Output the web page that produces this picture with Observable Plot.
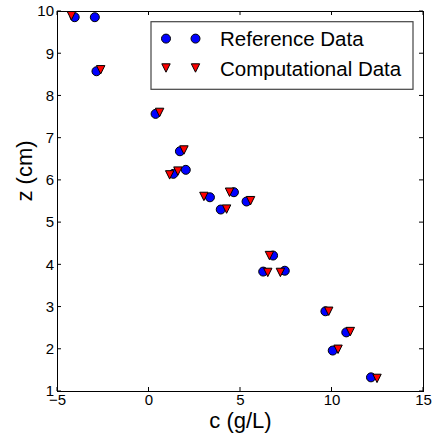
<!DOCTYPE html>
<html><head><meta charset="utf-8">
<script src="https://cdn.jsdelivr.net/npm/d3@7"></script>
<script src="https://cdn.jsdelivr.net/npm/@observablehq/plot@0.6"></script>
<style>body{margin:0;background:#fff} svg{display:block}</style>
</head><body><div id="chart"></div>
<script>
const refX = [-4.06, -2.96, -2.87, 0.36, 1.69, 1.33, 2.01, 3.33, 4.64, 3.92, 5.33, 6.78, 6.24, 7.42, 9.64, 10.78, 10.04, 12.13];
const refY = [9.865, 9.865, 8.585, 7.575, 6.69, 6.155, 6.25, 5.60, 5.72, 5.31, 5.50, 4.22, 3.84, 3.86, 2.90, 2.40, 1.97, 1.335];
const compX = [-4.24, -2.64, 0.58, 1.91, 1.13, 1.58, 3.00, 4.40, 4.24, 5.55, 6.58, 6.49, 7.18, 9.82, 11.00, 10.33, 12.46];
const compY = [9.90, 8.62, 7.61, 6.72, 6.13, 6.22, 5.62, 5.72, 5.32, 5.52, 4.22, 3.82, 3.82, 2.90, 2.42, 2.00, 1.31];
const xTicks = [-5, 0, 5, 10, 15];
const yTicks = [1, 2, 3, 4, 5, 6, 7, 8, 9, 10];
const seriesNames = ["Reference Data", "Computational Data"];
const xLabel = "c (g/L)";
const yLabel = "z (cm)";

const triDown = {draw(ctx, size) {
  const s = Math.sqrt(size / Math.PI);
  ctx.moveTo(0, s); ctx.lineTo(-s, -s); ctx.lineTo(s, -s); ctx.closePath();
}};

const ref = refX.map((x, i) => ({x, y: refY[i]}));
const comp = compX.map((x, i) => ({x, y: compY[i]}));
const FONT = "'Liberation Sans', Arial, Helvetica, sans-serif";

const chart = Plot.plot({
  width: 438, height: 438,
  marginLeft: 57, marginRight: 15, marginTop: 11, marginBottom: 47,
  style: {fontFamily: FONT, fontSize: "15px", background: "#fff", color: "#000"},
  x: {domain: [-5, 15]},
  y: {domain: [1, 10]},
  marks: [
    Plot.dot(ref, {x: "x", y: "y", r: 4.5, symbol: "circle", fill: "#0000ff", stroke: "#000", strokeWidth: 1}),
    Plot.dot(comp, {x: "x", y: "y", r: 4.2, symbol: triDown, fill: "#ff0000", stroke: "#000", strokeWidth: 1}),
    Plot.axisX(xTicks, {tickSize: 0, tickPadding: 3, fontSize: 15, label: null}),
    Plot.axisY(yTicks, {tickSize: 0, tickPadding: 3.5, fontSize: 15, label: null}),
    Plot.frame({stroke: "#000", strokeWidth: 1}),
    Plot.text([xLabel], {frameAnchor: "bottom", lineAnchor: "middle", dy: 29.8, fontSize: 22, text: d => d}),
    Plot.text([yLabel], {frameAnchor: "left", lineAnchor: "middle", dx: -32.2, rotate: -90, fontSize: 22, text: d => d})
  ]
});
document.getElementById("chart").appendChild(chart);

// inward ticks on all four sides, from Plot's scales
const sx = chart.scale("x"), sy = chart.scale("y");
const svg = d3.select(chart);
const [x0, x1] = sx.range, [y0, y1] = sy.range; // y0 bottom, y1 top
const L = 4;
const tg = svg.append("g").attr("stroke", "#000").attr("stroke-width", 1);
for (const t of xTicks) {
  const px = sx.apply(t);
  tg.append("line").attr("x1", px).attr("x2", px).attr("y1", y0).attr("y2", y0 - L);
  tg.append("line").attr("x1", px).attr("x2", px).attr("y1", y1).attr("y2", y1 + L);
}
for (const t of yTicks) {
  const py = sy.apply(t);
  tg.append("line").attr("y1", py).attr("y2", py).attr("x1", x0).attr("x2", x0 + L);
  tg.append("line").attr("y1", py).attr("y2", py).attr("x1", x1).attr("x2", x1 - L);
}

// legend
const lg = svg.append("g");
lg.append("rect").attr("x", 151).attr("y", 21.7).attr("width", 262).attr("height", 67.6)
  .attr("fill", "#fff").attr("stroke", "#444").attr("stroke-width", 1.2);
const sym = [
  {path: d3.symbol(d3.symbolCircle, Math.PI * 4.5 * 4.5)(), fill: "#0000ff", y: 38.6},
  {path: d3.symbol(triDown, Math.PI * 4.2 * 4.2)(), fill: "#ff0000", y: 68}
];
sym.forEach((s, i) => {
  for (const mx of [166, 195.5]) {
    lg.append("path").attr("d", s.path).attr("transform", `translate(${mx},${s.y})`)
      .attr("fill", s.fill).attr("stroke", "#000").attr("stroke-width", 1);
  }
  lg.append("text").attr("x", 220).attr("y", i === 0 ? 45.7 : 76)
    .attr("text-anchor", "start")
    .attr("font-family", FONT).attr("font-size", 20.5).attr("fill", "#000").text(seriesNames[i]);
});
</script>
</body></html>
